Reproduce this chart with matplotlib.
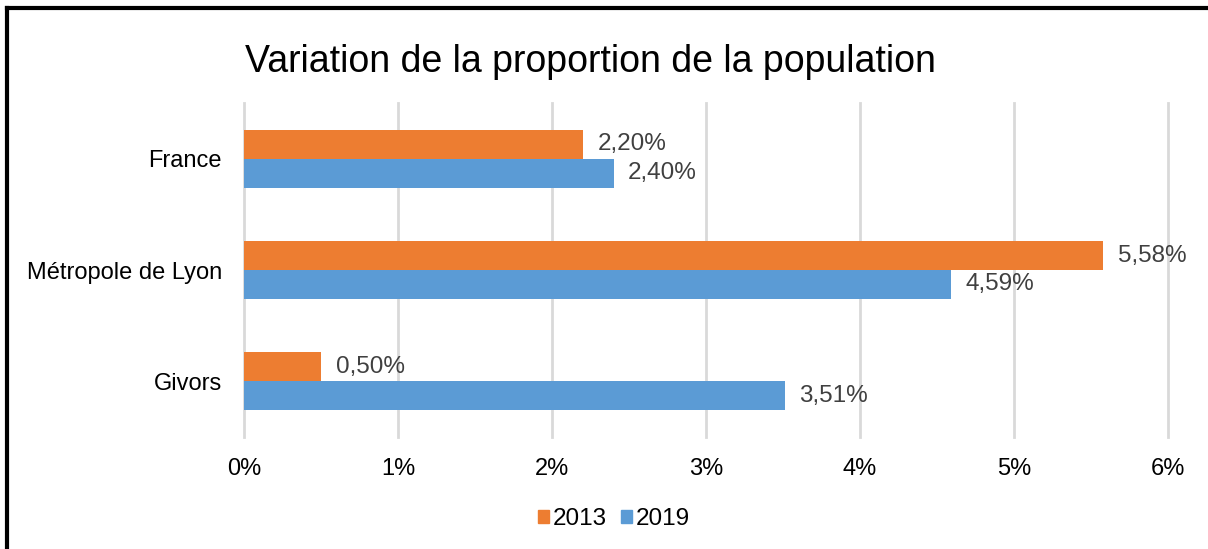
import matplotlib.pyplot as plt
from matplotlib.lines import Line2D
from matplotlib.patches import Patch

plt.rcParams["font.family"] = ["Liberation Sans", "DejaVu Sans"]

categories = ["Givors", "Métropole de Lyon", "France"]
v2013 = [0.50, 5.58, 2.20]
v2019 = [3.51, 4.59, 2.40]
labels2013 = ["0,50%", "5,58%", "2,20%"]
labels2019 = ["3,51%", "4,59%", "2,40%"]
xticks = [0, 1, 2, 3, 4, 5, 6]
xticklabels = ["0%", "1%", "2%", "3%", "4%", "5%", "6%"]

c2013 = "#ED7D31"
c2019 = "#5B9BD5"

fig = plt.figure(figsize=(12.08, 5.49), dpi=100)
ax = fig.add_axes([244 / 1208, 1 - 437 / 549, 924 / 1208, 334 / 549])

y = list(range(len(categories)))
h = 0.26
y13 = [i + h / 2 for i in y]
y19 = [i - h / 2 for i in y]
ax.barh(y13, v2013, height=h, color=c2013, zorder=3)
ax.barh(y19, v2019, height=h, color=c2019, zorder=3)

for yy, v, t in zip(y13, v2013, labels2013):
    ax.annotate(t, (v, yy), xytext=(10.5, 0), textcoords="offset points",
                va="center", ha="left", fontsize=17.5, color="#404040")
for yy, v, t in zip(y19, v2019, labels2019):
    ax.annotate(t, (v, yy), xytext=(10.5, 0), textcoords="offset points",
                va="center", ha="left", fontsize=17.5, color="#404040")

ax.set_xlim(0, 6)
ax.set_ylim(-0.5, 2.5)
ax.set_xticks(xticks)
ax.set_xticklabels(xticklabels, fontsize=17)
ax.set_yticks(y)
ax.set_yticklabels(categories, fontsize=17)
ax.tick_params(axis="both", length=0, colors="black")
ax.tick_params(axis="x", pad=15)
ax.tick_params(axis="y", pad=16)
ax.grid(axis="x", color="#D9D9D9", linewidth=2, zorder=0)
for gl in ax.get_xgridlines():
    gl.set_clip_on(False)
for s in ax.spines.values():
    s.set_visible(False)

fig.text(590 / 1208, 1 - 62 / 549, "Variation de la proportion de la population",
         ha="center", va="center", fontsize=27, color="black")

handles = [Patch(color=c2013), Patch(color=c2019)]
fig.legend(handles, ["2013", "2019"], loc="center", bbox_to_anchor=(614 / 1208, 1 - 519 / 549),
           ncol=2, frameon=False, fontsize=17.5, handlelength=0.45, handleheight=0.45,
           handletextpad=0.15, columnspacing=0.6)

# figure border (left and top only visible)
fig.add_artist(Line2D([7 / 1208, 7 / 1208], [0, 1 - 8 / 549], color="black", linewidth=3,
                      transform=fig.transFigure))
fig.add_artist(Line2D([7 / 1208, 1], [1 - 8 / 549, 1 - 8 / 549], color="black", linewidth=3,
                      transform=fig.transFigure))

fig.savefig("out.png", dpi=100)
